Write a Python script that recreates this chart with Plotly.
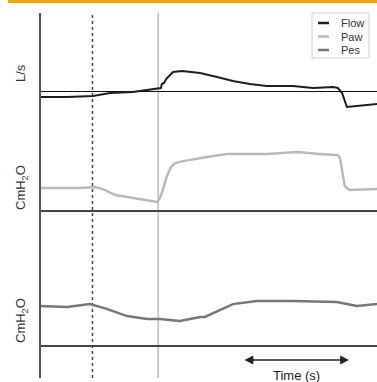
import plotly.graph_objects as go

# ---------------- data ----------------
flow_t = [0, 0.51, 1.0, 1.32, 1.75, 2.21, 2.28, 2.30, 2.34, 2.38, 2.42, 2.45, 2.51, 2.68,
          3.02, 3.34, 3.64, 3.96, 4.28, 4.77, 5.15, 5.53, 5.62, 5.70, 5.79, 6.36]
flow_v = [-0.15, -0.15, -0.125, -0.05, -0.025, 0.05, 0.075, 0.175, 0.2, 0.3, 0.35, 0.4, 0.475, 0.5,
          0.45, 0.35, 0.25, 0.175, 0.125, 0.125, 0.075, 0.1, 0.075, -0.05, -0.4, -0.325]

paw_t = [0, 0.75, 1.04, 1.19, 1.42, 1.64, 1.98, 2.21, 2.25, 2.30, 2.34, 2.38, 2.42, 2.47, 2.55,
         2.70, 3.15, 3.53, 4.28, 4.85, 5.28, 5.62, 5.66, 5.68, 5.70, 5.72, 5.75, 5.81, 5.85, 6.36]
paw_v = [5.7, 5.7, 5.9, 5.4, 3.9, 3.4, 2.7, 2.2, 2.9, 4.4, 6.2, 8.2, 9.4, 10.9, 11.9,
         12.4, 13.4, 14.2, 14.2, 14.7, 14.2, 13.9, 13.2, 11.4, 9.7, 7.7, 6.2, 5.4, 5.2, 5.4]

pes_t = [0, 0.51, 0.94, 1.26, 1.64, 2.02, 2.26, 2.64, 2.83, 3.02, 3.11, 3.40, 3.64, 4.09,
         4.77, 5.60, 5.98, 6.36]
pes_v = [9.9, 9.7, 10.4, 9.2, 7.4, 6.7, 6.7, 6.2, 6.7, 7.2, 7.2, 8.9, 10.4, 11.2,
         11.2, 10.9, 9.9, 10.4]

event_times = [0.99, 2.23]          # dotted marker, start of inspiration
time_arrow = [3.83, 5.83]           # span of the "Time (s)" arrow
series_names = ["Flow", "Paw", "Pes"]
series_colors = ["#1e1e1e", "#b9b9b9", "#777777"]
unit_labels = ["L/s", "CmH<sub>2</sub>O", "CmH<sub>2</sub>O"]

# ---------------- layout helpers ----------------
W, H = 377, 382
X0 = 40          # left axis pixel
PX_PER_S = 53


def fx(px):
    return px / W


def fy(py):
    return 1 - py / H


def yaxis(top, bot, base, scale):
    return dict(domain=[fy(bot), fy(top)], range=[(base - bot) / scale, (base - top) / scale],
                visible=True, showgrid=False, showticklabels=False, ticks="", showline=False,
                zeroline=True, anchor="x", fixedrange=True)


fig = go.Figure()
fig.add_trace(go.Scatter(x=flow_t, y=flow_v, name=series_names[0], mode="lines",
                         line=dict(color=series_colors[0], width=2), yaxis="y"))
fig.add_trace(go.Scatter(x=paw_t, y=paw_v, name=series_names[1], mode="lines",
                         line=dict(color=series_colors[1], width=2.5), yaxis="y2"))
fig.add_trace(go.Scatter(x=pes_t, y=pes_v, name=series_names[2], mode="lines",
                         line=dict(color=series_colors[2], width=2.5), yaxis="y3"))

ya1 = yaxis(13, 130, 91, 40)
ya1.update(zerolinecolor="#111111", zerolinewidth=1.3)
ya2 = yaxis(130, 250, 210.7, 4)
ya2.update(zerolinecolor="#444444", zerolinewidth=2)
ya3 = yaxis(250, 382, 345.7, 4)
ya3.update(zerolinecolor="#444444", zerolinewidth=2)

shapes = [
    # orange top band
    dict(type="rect", xref="paper", yref="paper", x0=fx(8), x1=1, y0=fy(3), y1=1,
         fillcolor="#EBA21E", line=dict(width=0), layer="above"),
    # left axis line
    dict(type="line", xref="paper", yref="paper", x0=fx(X0), x1=fx(X0), y0=fy(378), y1=fy(13),
         line=dict(color="#555555", width=2)),
    # event lines
    dict(type="line", xref="x", yref="paper", x0=event_times[0], x1=event_times[0],
         y0=fy(378), y1=fy(13), line=dict(color="#444444", width=1.5, dash="dot"), layer="below"),
    dict(type="line", xref="x", yref="paper", x0=event_times[1], x1=event_times[1],
         y0=fy(378), y1=fy(13), line=dict(color="#bdbdbd", width=1.5), layer="below"),
    # legend box
    dict(type="rect", xref="paper", yref="paper", x0=fx(312), x1=fx(369), y0=fy(58), y1=fy(13),
         fillcolor="white", line=dict(color="#d0d0d0", width=1), layer="above"),
]

lab = dict(xref="paper", yref="paper", showarrow=False, xanchor="center", yanchor="middle")
annotations = [
    dict(lab, text=unit_labels[0], x=fx(20), y=fy(73), textangle=-90,
         font=dict(size=13, color="#333333")),
    dict(lab, text=unit_labels[1], x=fx(21), y=fy(188), textangle=-90,
         font=dict(size=13, color="#333333")),
    dict(lab, text=unit_labels[2], x=fx(21), y=fy(321), textangle=-90,
         font=dict(size=13, color="#333333")),
    dict(text="", xref="x", yref="paper", x=time_arrow[1], y=fy(360), axref="x", ax=time_arrow[0],
         ayref="pixel", ay=0, showarrow=True, arrowside="end+start", arrowhead=2,
         arrowsize=1.1, arrowwidth=1.6, arrowcolor="#222222"),
    dict(lab, text="Time (s)", x=fx(296), y=fy(375.5), font=dict(size=13, color="#222222")),
]

# manual compact legend (short line samples like the reference)
for i, (name, col) in enumerate(zip(series_names, series_colors)):
    ry = 23 + i * 13.5
    shapes.append(dict(type="line", xref="paper", yref="paper", x0=fx(318), x1=fx(329),
                       y0=fy(ry), y1=fy(ry), line=dict(color=col, width=2.5), layer="above"))
    annotations.append(dict(text=name, xref="paper", yref="paper", x=fx(339), y=fy(ry),
                            xanchor="left", yanchor="middle", showarrow=False,
                            font=dict(size=11, color="#333333")))

fig.update_layout(
    width=W, height=H, margin=dict(l=0, r=0, t=0, b=0),
    paper_bgcolor="white", plot_bgcolor="white",
    font=dict(family="Liberation Sans, Arial, sans-serif", color="#333333"),
    xaxis=dict(domain=[fx(X0), 1], range=[0, (W - X0) / PX_PER_S], visible=False, fixedrange=True),
    yaxis=ya1, yaxis2=ya2, yaxis3=ya3,
    shapes=shapes, annotations=annotations,
    showlegend=False,
)

fig.write_html("out.html", config={"displayModeBar": False},
               post_script="document.body.style.margin='0';")
